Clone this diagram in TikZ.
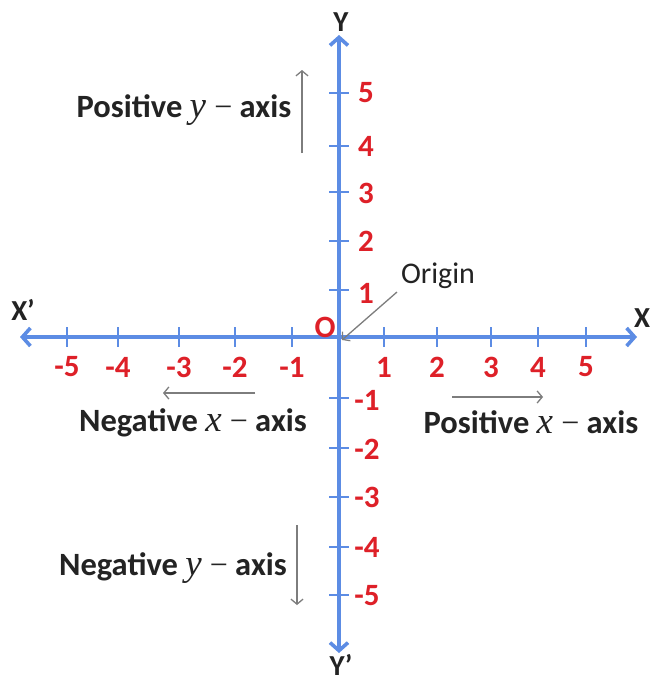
\documentclass[tikz,border=0pt]{standalone}
\usepackage{fontspec}
\setmainfont{Carlito}
\newfontfamily\varfont{Liberation Serif}
\usetikzlibrary{arrows.meta}
\definecolor{axisblue}{RGB}{92,140,228}
\definecolor{tickred}{RGB}{222,32,40}
\definecolor{arrgray}{RGB}{125,125,125}
\definecolor{textblack}{RGB}{35,35,35}
\tikzset{
  axisline/.style={draw=axisblue, line width=3.6pt, {Straight Barb[length=8pt,width=18pt,line width=3.6pt]}-{Straight Barb[length=8pt,width=18pt,line width=3.6pt]}},
  tickmark/.style={draw=axisblue, line width=2.6pt},
  ticklabel/.style={text=tickred, font=\fontsize{31}{34}\selectfont\bfseries, inner sep=0pt},
  axisname/.style={text=textblack, font=\fontsize{29}{32}\selectfont\bfseries, inner sep=0pt},
  desc/.style={text=textblack, font=\fontsize{32.5}{36}\selectfont\bfseries, inner sep=0pt},
  guide/.style={draw=arrgray, line width=1.3pt, -{Straight Barb[length=5pt,width=12pt,line width=1.3pt]}}
}
\newcommand{\vv}[1]{{\varfont\mdseries\itshape\fontsize{37}{37}\selectfont #1}\hspace{0.25em}{\varfont\mdseries\fontsize{32}{34}\selectfont −}}
\begin{document}
\begin{tikzpicture}[x=1pt,y=-1pt]
\useasboundingbox[fill=white] (0,0) rectangle (652,683);
% axes
\coordinate (O) at (339,337);
\coordinate (xl) at (20,337);
\coordinate (xr) at (637,337);
\coordinate (yt) at (339,35);
\coordinate (yb) at (339,653);
\draw[axisline] (xl) -- (xr);
\draw[axisline] (yt) -- (yb);
% x ticks
\foreach \x/\l in {67/-5,118/-4,179/-3,235/-2,292/-1,384/1,437/2,491/3,538/4,586/5}{
  \draw[tickmark] (\x,327) -- (\x,347);
  \node[ticklabel] (xt\l) at (\x,367) {\l};
}
% y ticks
\foreach \y/\l in {93/5,146/4,192/3,241/2,290/1,398/-1,448/-2,497/-3,547/-4,595/-5}{
  \draw[tickmark] (329,\y) -- (349,\y);
}
\foreach \y/\l in {93/5,146/4,193/3,241/2,293/1}{
  \node[ticklabel] (yt\l) at (366,\y) {\l};
}
\foreach \y/\l in {400/-1,449/-2,497/-3,547/-4,596/-5}{
  \node[ticklabel] (yt\l) at (367,\y) {\l};
}
\node[ticklabel] (Olab) at (325,327) {O};
% axis names
\node[axisname] (Y) at (341,22) {Y};
\node[axisname] (Yp) at (341,665) {Y’};
\node[axisname] (X) at (642,318) {X};
\node[axisname] (Xp) at (23,310) {X’};
% descriptions
\node[desc] (posy) at (184,110) {Positive \vv{y} axis};
\node[desc] (negy) at (173,568) {Negative \vv{y} axis};
\node[desc] (negx) at (193,423) {Negative \vv{x} axis};
\node[desc] (posx) at (531,422) {Positive \vv{x} axis};
\node[desc, font=\fontsize{30}{34}\selectfont] (orig) at (438,276) {Origin};
% guide arrows
\coordinate (py1) at (302,153); \coordinate (py2) at (302,70);
\coordinate (ny1) at (297,525); \coordinate (ny2) at (297,605);
\coordinate (nx1) at (255,393); \coordinate (nx2) at (163,393);
\coordinate (px1) at (452,397); \coordinate (px2) at (543,397);
\coordinate (or1) at (397,292);
\draw[guide] (py1) -- (py2);
\draw[guide] (ny1) -- (ny2);
\draw[guide] (nx1) -- (nx2);
\draw[guide] (px1) -- (px2);
\draw[guide] (or1) -- ([shift={(3pt,-3pt)}]O);
\end{tikzpicture}
\end{document}
